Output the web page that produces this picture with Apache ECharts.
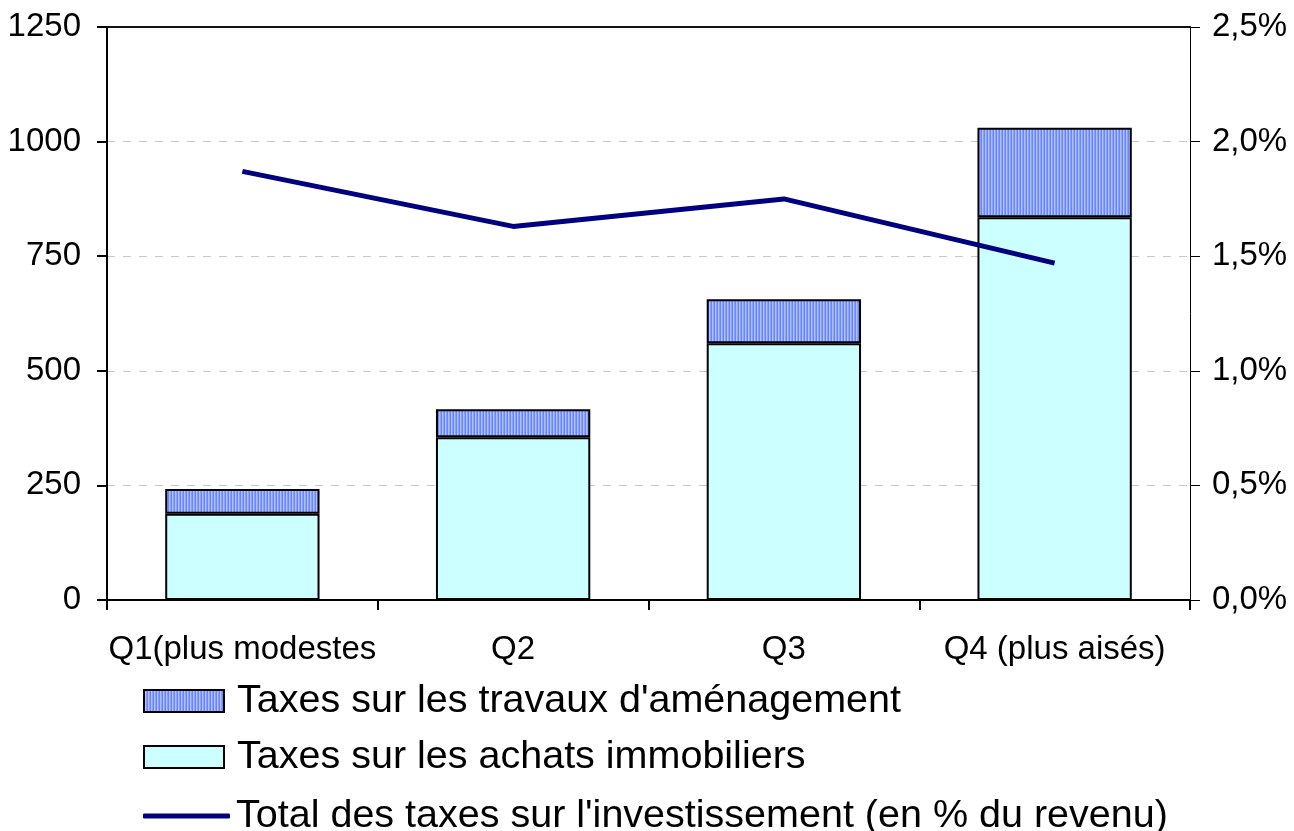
<!DOCTYPE html>
<html lang="fr">
<head>
    <meta charset="UTF-8">
    <title>Taxes sur l'investissement</title>
    <script src="https://cdn.jsdelivr.net/npm/echarts@6/dist/echarts.min.js"></script>
    <style>
        html, body { margin: 0; padding: 0; background: #fff; }
        #main { width: 1294px; height: 831px; }
    </style>
</head>
<body>
<div id="main"></div>
<script>
    // données
    var categories = ['Q1(plus modestes', 'Q2', 'Q3', 'Q4 (plus aisés)'];
    var achats = [188, 355, 560, 835];      // Taxes sur les achats immobiliers
    var travaux = [54, 61, 96, 195];        // Taxes sur les travaux d'aménagement
    var totalPct = [0.0187, 0.0163, 0.0175, 0.0147];  // axe de droite

    var nomTravaux = "Taxes sur les travaux d'aménagement";
    var nomAchats = 'Taxes sur les achats immobiliers';
    var nomTotal = "Total des taxes sur l'investissement (en % du revenu)";

    // motif hachuré vertical bleu
    function stripes() {
        var c = document.createElement('canvas');
        c.width = 3; c.height = 4;
        var ctx = c.getContext('2d');
        ctx.fillStyle = '#6a86ff'; ctx.fillRect(0, 0, 1, 4);
        ctx.fillStyle = '#b0c0ff'; ctx.fillRect(1, 0, 1, 4);
        ctx.fillStyle = '#8aa2ff'; ctx.fillRect(2, 0, 1, 4);
        return c;
    }

    var font = 'Liberation Sans, Arial, sans-serif';
    var legendText = { fontFamily: font, fontSize: 39.5, color: '#000', lineHeight: 40, padding: [0, 0, 0, 8] };

    // une légende par ligne pour placer chaque entrée
    function legendRow(name, top, extra) {
        var l = {
            orient: 'vertical',
            left: 143,
            top: top,
            padding: 0,
            itemWidth: 80,
            itemHeight: 22,
            data: [{ name: name, icon: 'rect' }],
            textStyle: legendText
        };
        for (var k in extra) l[k] = extra[k];
        return l;
    }

    var chart = echarts.init(document.getElementById('main'), null, { renderer: 'canvas' });

    var option = {
        animation: false,
        grid: { left: 107, right: 104, top: 27, bottom: 231 },
        legend: [
            legendRow(nomTravaux, 681),
            legendRow(nomAchats, 737),
            legendRow(nomTotal, 796, {
                itemWidth: 87, itemHeight: 5,
                data: [{ name: nomTotal, icon: 'roundRect' }],
                textStyle: { fontFamily: font, fontSize: 39.5, color: '#000', lineHeight: 40, padding: [0, 0, 0, 1] }
            })
        ],
        xAxis: [{
            type: 'category',
            data: categories,
            axisLine: { lineStyle: { color: '#000', width: 2 } },
            axisTick: { show: true, length: 10, lineStyle: { color: '#000', width: 2 } },
            axisLabel: { fontFamily: font, fontSize: 33, color: '#000', margin: 33, interval: 0 }
        }, {
            // ligne du haut du cadre
            type: 'category',
            position: 'top',
            data: categories,
            axisLine: { onZero: false, lineStyle: { color: '#111', width: 2 } },
            axisTick: { show: false },
            axisLabel: { show: false }
        }],
        yAxis: [{
            type: 'value',
            min: 0, max: 1250, interval: 250,
            axisLine: { show: true, lineStyle: { color: '#000', width: 2 } },
            axisTick: { show: true, length: 10, lineStyle: { color: '#000', width: 2 } },
            axisLabel: {
                fontFamily: font, fontSize: 33, color: '#000', margin: 26,
                formatter: function (v) { return String(v); }
            },
            splitLine: { show: true, lineStyle: { color: '#c8c8c8', type: [8, 8], width: 1 } }
        }, {
            type: 'value',
            min: 0, max: 0.025, interval: 0.005,
            axisLine: { show: true, lineStyle: { color: '#000', width: 1 } },
            axisTick: { show: true, length: 10, lineStyle: { color: '#000', width: 1 } },
            axisLabel: {
                fontFamily: font, fontSize: 33, color: '#000', margin: 22,
                formatter: function (v) { return (v * 100).toFixed(1).replace('.', ',') + '%'; }
            },
            splitLine: { show: false }
        }],
        series: [{
            name: nomAchats,
            type: 'bar',
            stack: 'taxes',
            barWidth: '57%',
            data: achats,
            itemStyle: { color: '#ccffff', borderColor: '#000', borderWidth: 2 }
        }, {
            name: nomTravaux,
            type: 'bar',
            stack: 'taxes',
            data: travaux,
            itemStyle: { color: { image: stripes(), repeat: 'repeat' }, borderColor: '#000', borderWidth: 2 }
        }, {
            name: nomTotal,
            type: 'line',
            yAxisIndex: 1,
            data: totalPct,
            symbol: 'none',
            lineStyle: { color: '#000080', width: 5 },
            itemStyle: { color: '#000080' }
        }]
    };

    chart.setOption(option);
</script>
</body>
</html>
